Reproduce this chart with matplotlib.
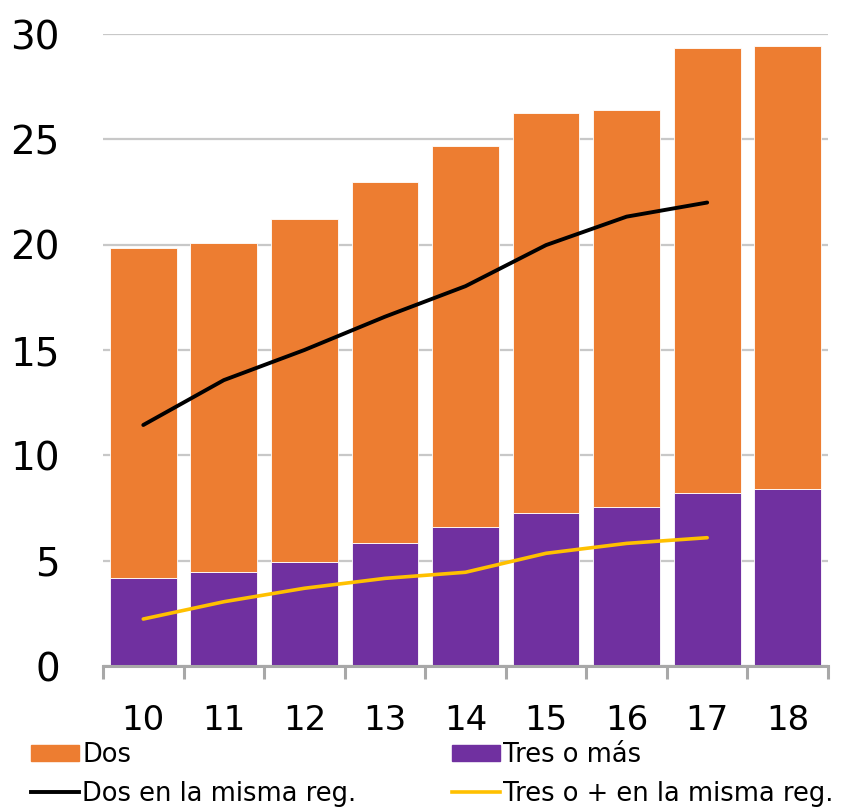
import numpy as np
import matplotlib
matplotlib.use("Agg")
import matplotlib.pyplot as plt
from matplotlib.patches import Patch
from matplotlib.lines import Line2D

plt.rcParams['font.family'] = ['DejaVu Sans']

years = ['10', '11', '12', '13', '14', '15', '16', '17', '18']
tres_o_mas = [4.19, 4.45, 4.95, 5.82, 6.61, 7.28, 7.56, 8.23, 8.40]
dos = [15.66, 15.65, 16.28, 17.14, 18.07, 18.95, 18.83, 21.09, 21.03]
dos_misma_reg = [11.44, 13.57, 15.0, 16.58, 18.03, 19.98, 21.33, 22.0]
tres_misma_reg = [2.23, 3.05, 3.69, 4.16, 4.45, 5.35, 5.82, 6.09]

ORANGE = '#ED7D31'
PURPLE = '#7030A0'
YELLOW = '#FFC000'
GRID = '#C8C8C8'


def main():
    fig = plt.figure(figsize=(8.44, 8.10), dpi=100)
    ax = fig.add_axes([103 / 844, 1 - 666 / 810, 725 / 844, 632 / 810])

    x = np.arange(len(years))
    ax.bar(x, tres_o_mas, width=0.83, color=PURPLE, edgecolor='white',
           linewidth=0.6, zorder=2)
    ax.bar(x, dos, width=0.83, bottom=tres_o_mas, color=ORANGE,
           edgecolor='white', linewidth=0.6, zorder=2)

    # regional lines stop at 2017
    ax.plot(x[:len(dos_misma_reg)], dos_misma_reg, color='black', lw=2.8,
            solid_capstyle='round', zorder=3)
    ax.plot(x[:len(tres_misma_reg)], tres_misma_reg, color=YELLOW, lw=2.6,
            solid_capstyle='round', zorder=3)

    ax.set_xlim(-0.5, len(years) - 0.5)
    ax.set_ylim(0, 30)
    ax.set_yticks(range(0, 31, 5))
    ax.yaxis.grid(True, color=GRID, lw=1.6, zorder=0)
    ax.set_axisbelow(True)

    ax.set_xticks(x)
    ax.set_xticklabels(years)
    ax.set_xticks(np.arange(-0.5, len(years)), minor=True)
    ax.tick_params(axis='x', which='major', length=0, pad=27, labelsize=24.5)
    ax.tick_params(axis='x', which='minor', length=9, width=2.2,
                   color='#A8A8A8', direction='out')
    ax.tick_params(axis='y', length=0, pad=31, labelsize=28)

    for side in ['top', 'right', 'left']:
        ax.spines[side].set_visible(False)
    ax.spines['bottom'].set_color('#A8A8A8')
    ax.spines['bottom'].set_linewidth(2.2)

    leg_kw = dict(loc='upper left', frameon=False, fontsize=18.5,
                  handlelength=1.85, handleheight=0.6, handletextpad=0.15,
                  labelspacing=0.5, borderpad=0, borderaxespad=0)
    col1 = [Patch(color=ORANGE), Line2D([], [], color='black', lw=2.8)]
    col2 = [Patch(color=PURPLE), Line2D([], [], color=YELLOW, lw=2.6)]
    fig.legend(col1, ['Dos', 'Dos en la misma reg.'],
               bbox_to_anchor=(31 / 844, 1 - 742 / 810), **leg_kw)
    fig.legend(col2, ['Tres o más', 'Tres o + en la misma reg.'],
               bbox_to_anchor=(452 / 844, 1 - 742 / 810), **leg_kw)

    fig.savefig('out.png', dpi=100)


if __name__ == "__main__":
    main()
